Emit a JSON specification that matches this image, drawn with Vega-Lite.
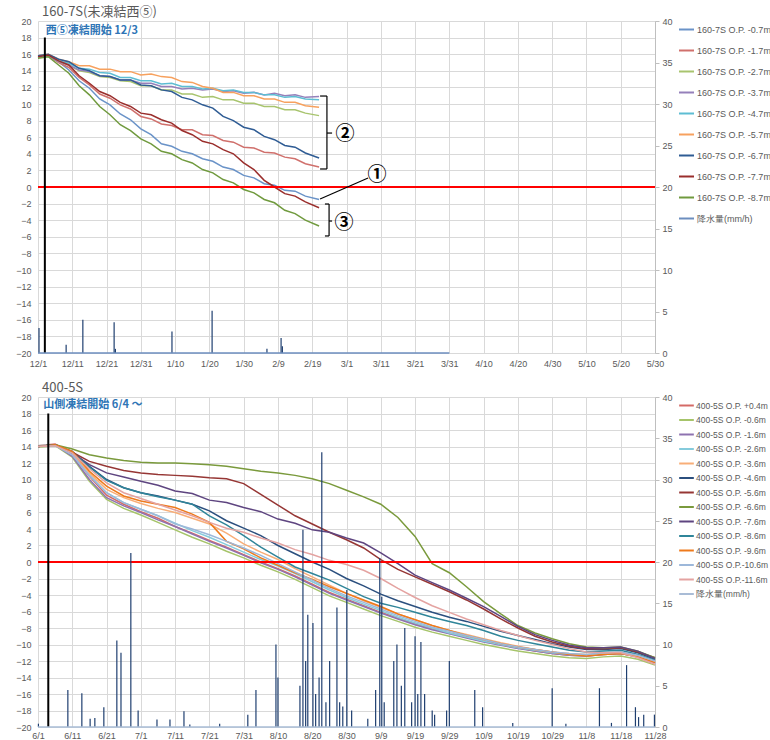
{
"$schema":"https://vega.github.io/schema/vega-lite/v6.json",
"background":"white",
"padding":{"left":8,"top":6,"right":0,"bottom":0},
"spacing":13,
"config":{"font":"Noto Sans CJK JP","view":{"stroke":null},"axis":{"labelFont":"Liberation Sans","labelColor":"#595959","labelFontSize":9,"gridColor":"#d9d9d9","gridWidth":1,"labelOverlap":false,"tickCount":100},"legend":{"labelFont":"Liberation Sans"}},
"datasets":{
"t1":[
{"d":"2018-12-01","s":"-0.7m","v":15.7},{"d":"2018-12-04","s":"-0.7m","v":15.9},{"d":"2018-12-07","s":"-0.7m","v":15.1},{"d":"2018-12-10","s":"-0.7m","v":14.1},{"d":"2018-12-13","s":"-0.7m","v":12.8},{"d":"2018-12-16","s":"-0.7m","v":11.9},{"d":"2018-12-19","s":"-0.7m","v":10.6},{"d":"2018-12-22","s":"-0.7m","v":9.9},{"d":"2018-12-25","s":"-0.7m","v":8.8},{"d":"2018-12-28","s":"-0.7m","v":8.1},{"d":"2018-12-31","s":"-0.7m","v":7.0},{"d":"2019-01-03","s":"-0.7m","v":6.3},{"d":"2019-01-06","s":"-0.7m","v":5.2},{"d":"2019-01-09","s":"-0.7m","v":4.9},{"d":"2019-01-12","s":"-0.7m","v":4.3},{"d":"2019-01-15","s":"-0.7m","v":4.0},{"d":"2019-01-18","s":"-0.7m","v":3.4},{"d":"2019-01-21","s":"-0.7m","v":3.1},{"d":"2019-01-24","s":"-0.7m","v":2.4},{"d":"2019-01-27","s":"-0.7m","v":2.1},{"d":"2019-01-30","s":"-0.7m","v":1.4},{"d":"2019-02-02","s":"-0.7m","v":1.1},{"d":"2019-02-05","s":"-0.7m","v":0.4},{"d":"2019-02-08","s":"-0.7m","v":0.2},{"d":"2019-02-11","s":"-0.7m","v":-0.4},{"d":"2019-02-14","s":"-0.7m","v":-0.5},{"d":"2019-02-17","s":"-0.7m","v":-1.1},{"d":"2019-02-21","s":"-0.7m","v":-1.5},
{"d":"2018-12-01","s":"-1.7m","v":15.6},{"d":"2018-12-04","s":"-1.7m","v":15.8},{"d":"2018-12-07","s":"-1.7m","v":15.0},{"d":"2018-12-10","s":"-1.7m","v":14.4},{"d":"2018-12-13","s":"-1.7m","v":13.2},{"d":"2018-12-16","s":"-1.7m","v":12.3},{"d":"2018-12-19","s":"-1.7m","v":11.2},{"d":"2018-12-22","s":"-1.7m","v":10.7},{"d":"2018-12-25","s":"-1.7m","v":9.9},{"d":"2018-12-28","s":"-1.7m","v":9.4},{"d":"2018-12-31","s":"-1.7m","v":8.5},{"d":"2019-01-03","s":"-1.7m","v":8.2},{"d":"2019-01-06","s":"-1.7m","v":7.6},{"d":"2019-01-09","s":"-1.7m","v":7.4},{"d":"2019-01-12","s":"-1.7m","v":6.9},{"d":"2019-01-15","s":"-1.7m","v":6.9},{"d":"2019-01-18","s":"-1.7m","v":6.3},{"d":"2019-01-21","s":"-1.7m","v":6.2},{"d":"2019-01-24","s":"-1.7m","v":5.6},{"d":"2019-01-27","s":"-1.7m","v":5.4},{"d":"2019-01-30","s":"-1.7m","v":4.8},{"d":"2019-02-02","s":"-1.7m","v":4.7},{"d":"2019-02-05","s":"-1.7m","v":4.2},{"d":"2019-02-08","s":"-1.7m","v":4.1},{"d":"2019-02-11","s":"-1.7m","v":3.6},{"d":"2019-02-14","s":"-1.7m","v":3.4},{"d":"2019-02-17","s":"-1.7m","v":2.8},{"d":"2019-02-21","s":"-1.7m","v":2.4},
{"d":"2018-12-01","s":"-2.7m","v":15.6},{"d":"2018-12-04","s":"-2.7m","v":15.8},{"d":"2018-12-07","s":"-2.7m","v":15.1},{"d":"2018-12-10","s":"-2.7m","v":14.7},{"d":"2018-12-13","s":"-2.7m","v":14.0},{"d":"2018-12-16","s":"-2.7m","v":13.8},{"d":"2018-12-19","s":"-2.7m","v":13.3},{"d":"2018-12-22","s":"-2.7m","v":13.2},{"d":"2018-12-25","s":"-2.7m","v":12.8},{"d":"2018-12-28","s":"-2.7m","v":12.7},{"d":"2018-12-31","s":"-2.7m","v":12.2},{"d":"2019-01-03","s":"-2.7m","v":12.2},{"d":"2019-01-06","s":"-2.7m","v":11.7},{"d":"2019-01-09","s":"-2.7m","v":11.7},{"d":"2019-01-12","s":"-2.7m","v":11.2},{"d":"2019-01-15","s":"-2.7m","v":11.2},{"d":"2019-01-18","s":"-2.7m","v":10.8},{"d":"2019-01-21","s":"-2.7m","v":10.9},{"d":"2019-01-24","s":"-2.7m","v":10.5},{"d":"2019-01-27","s":"-2.7m","v":10.5},{"d":"2019-01-30","s":"-2.7m","v":10.1},{"d":"2019-02-02","s":"-2.7m","v":10.1},{"d":"2019-02-05","s":"-2.7m","v":9.7},{"d":"2019-02-08","s":"-2.7m","v":9.7},{"d":"2019-02-11","s":"-2.7m","v":9.3},{"d":"2019-02-14","s":"-2.7m","v":9.3},{"d":"2019-02-17","s":"-2.7m","v":8.9},{"d":"2019-02-21","s":"-2.7m","v":8.6},
{"d":"2018-12-01","s":"-3.7m","v":15.6},{"d":"2018-12-04","s":"-3.7m","v":15.8},{"d":"2018-12-07","s":"-3.7m","v":15.1},{"d":"2018-12-10","s":"-3.7m","v":14.7},{"d":"2018-12-13","s":"-3.7m","v":14.1},{"d":"2018-12-16","s":"-3.7m","v":13.9},{"d":"2018-12-19","s":"-3.7m","v":13.4},{"d":"2018-12-22","s":"-3.7m","v":13.3},{"d":"2018-12-25","s":"-3.7m","v":12.9},{"d":"2018-12-28","s":"-3.7m","v":12.9},{"d":"2018-12-31","s":"-3.7m","v":12.5},{"d":"2019-01-03","s":"-3.7m","v":12.5},{"d":"2019-01-06","s":"-3.7m","v":12.1},{"d":"2019-01-09","s":"-3.7m","v":12.1},{"d":"2019-01-12","s":"-3.7m","v":11.8},{"d":"2019-01-15","s":"-3.7m","v":11.9},{"d":"2019-01-18","s":"-3.7m","v":11.7},{"d":"2019-01-21","s":"-3.7m","v":11.8},{"d":"2019-01-24","s":"-3.7m","v":11.5},{"d":"2019-01-27","s":"-3.7m","v":11.6},{"d":"2019-01-30","s":"-3.7m","v":11.3},{"d":"2019-02-02","s":"-3.7m","v":11.4},{"d":"2019-02-05","s":"-3.7m","v":11.1},{"d":"2019-02-08","s":"-3.7m","v":11.3},{"d":"2019-02-11","s":"-3.7m","v":11.0},{"d":"2019-02-14","s":"-3.7m","v":11.1},{"d":"2019-02-17","s":"-3.7m","v":10.8},{"d":"2019-02-21","s":"-3.7m","v":10.9},
{"d":"2018-12-01","s":"-4.7m","v":15.7},{"d":"2018-12-04","s":"-4.7m","v":15.9},{"d":"2018-12-07","s":"-4.7m","v":15.2},{"d":"2018-12-10","s":"-4.7m","v":14.9},{"d":"2018-12-13","s":"-4.7m","v":14.3},{"d":"2018-12-16","s":"-4.7m","v":14.2},{"d":"2018-12-19","s":"-4.7m","v":13.8},{"d":"2018-12-22","s":"-4.7m","v":13.7},{"d":"2018-12-25","s":"-4.7m","v":13.2},{"d":"2018-12-28","s":"-4.7m","v":13.2},{"d":"2018-12-31","s":"-4.7m","v":12.8},{"d":"2019-01-03","s":"-4.7m","v":12.8},{"d":"2019-01-06","s":"-4.7m","v":12.4},{"d":"2019-01-09","s":"-4.7m","v":12.5},{"d":"2019-01-12","s":"-4.7m","v":12.1},{"d":"2019-01-15","s":"-4.7m","v":12.1},{"d":"2019-01-18","s":"-4.7m","v":11.8},{"d":"2019-01-21","s":"-4.7m","v":11.9},{"d":"2019-01-24","s":"-4.7m","v":11.6},{"d":"2019-01-27","s":"-4.7m","v":11.7},{"d":"2019-01-30","s":"-4.7m","v":11.4},{"d":"2019-02-02","s":"-4.7m","v":11.4},{"d":"2019-02-05","s":"-4.7m","v":11.1},{"d":"2019-02-08","s":"-4.7m","v":11.1},{"d":"2019-02-11","s":"-4.7m","v":10.8},{"d":"2019-02-14","s":"-4.7m","v":10.9},{"d":"2019-02-17","s":"-4.7m","v":10.6},{"d":"2019-02-21","s":"-4.7m","v":10.5},
{"d":"2018-12-01","s":"-5.7m","v":15.8},{"d":"2018-12-04","s":"-5.7m","v":16.0},{"d":"2018-12-07","s":"-5.7m","v":15.4},{"d":"2018-12-10","s":"-5.7m","v":15.1},{"d":"2018-12-13","s":"-5.7m","v":14.6},{"d":"2018-12-16","s":"-5.7m","v":14.6},{"d":"2018-12-19","s":"-5.7m","v":14.2},{"d":"2018-12-22","s":"-5.7m","v":14.2},{"d":"2018-12-25","s":"-5.7m","v":13.9},{"d":"2018-12-28","s":"-5.7m","v":13.9},{"d":"2018-12-31","s":"-5.7m","v":13.5},{"d":"2019-01-03","s":"-5.7m","v":13.6},{"d":"2019-01-06","s":"-5.7m","v":13.3},{"d":"2019-01-09","s":"-5.7m","v":13.2},{"d":"2019-01-12","s":"-5.7m","v":12.7},{"d":"2019-01-15","s":"-5.7m","v":12.6},{"d":"2019-01-18","s":"-5.7m","v":12.1},{"d":"2019-01-21","s":"-5.7m","v":11.9},{"d":"2019-01-24","s":"-5.7m","v":11.4},{"d":"2019-01-27","s":"-5.7m","v":11.4},{"d":"2019-01-30","s":"-5.7m","v":11.0},{"d":"2019-02-02","s":"-5.7m","v":11.0},{"d":"2019-02-05","s":"-5.7m","v":10.6},{"d":"2019-02-08","s":"-5.7m","v":10.6},{"d":"2019-02-11","s":"-5.7m","v":10.2},{"d":"2019-02-14","s":"-5.7m","v":10.2},{"d":"2019-02-17","s":"-5.7m","v":9.8},{"d":"2019-02-21","s":"-5.7m","v":9.6},
{"d":"2018-12-01","s":"-6.7m","v":15.8},{"d":"2018-12-04","s":"-6.7m","v":16.0},{"d":"2018-12-07","s":"-6.7m","v":15.4},{"d":"2018-12-10","s":"-6.7m","v":15.1},{"d":"2018-12-13","s":"-6.7m","v":14.3},{"d":"2018-12-16","s":"-6.7m","v":14.0},{"d":"2018-12-19","s":"-6.7m","v":13.4},{"d":"2018-12-22","s":"-6.7m","v":13.3},{"d":"2018-12-25","s":"-6.7m","v":12.9},{"d":"2018-12-28","s":"-6.7m","v":12.9},{"d":"2018-12-31","s":"-6.7m","v":12.3},{"d":"2019-01-03","s":"-6.7m","v":12.2},{"d":"2019-01-06","s":"-6.7m","v":11.7},{"d":"2019-01-09","s":"-6.7m","v":11.5},{"d":"2019-01-12","s":"-6.7m","v":10.8},{"d":"2019-01-15","s":"-6.7m","v":10.5},{"d":"2019-01-18","s":"-6.7m","v":9.9},{"d":"2019-01-21","s":"-6.7m","v":9.5},{"d":"2019-01-24","s":"-6.7m","v":8.5},{"d":"2019-01-27","s":"-6.7m","v":8.0},{"d":"2019-01-30","s":"-6.7m","v":7.2},{"d":"2019-02-02","s":"-6.7m","v":6.9},{"d":"2019-02-05","s":"-6.7m","v":6.1},{"d":"2019-02-08","s":"-6.7m","v":5.7},{"d":"2019-02-11","s":"-6.7m","v":5.0},{"d":"2019-02-14","s":"-6.7m","v":4.8},{"d":"2019-02-17","s":"-6.7m","v":4.1},{"d":"2019-02-21","s":"-6.7m","v":3.5},
{"d":"2018-12-01","s":"-7.7m","v":15.7},{"d":"2018-12-04","s":"-7.7m","v":15.9},{"d":"2018-12-07","s":"-7.7m","v":15.2},{"d":"2018-12-10","s":"-7.7m","v":14.7},{"d":"2018-12-13","s":"-7.7m","v":13.4},{"d":"2018-12-16","s":"-7.7m","v":12.5},{"d":"2018-12-19","s":"-7.7m","v":11.5},{"d":"2018-12-22","s":"-7.7m","v":11.0},{"d":"2018-12-25","s":"-7.7m","v":10.2},{"d":"2018-12-28","s":"-7.7m","v":9.7},{"d":"2018-12-31","s":"-7.7m","v":8.9},{"d":"2019-01-03","s":"-7.7m","v":8.7},{"d":"2019-01-06","s":"-7.7m","v":8.1},{"d":"2019-01-09","s":"-7.7m","v":7.7},{"d":"2019-01-12","s":"-7.7m","v":6.8},{"d":"2019-01-15","s":"-7.7m","v":6.3},{"d":"2019-01-18","s":"-7.7m","v":5.5},{"d":"2019-01-21","s":"-7.7m","v":5.2},{"d":"2019-01-24","s":"-7.7m","v":4.5},{"d":"2019-01-27","s":"-7.7m","v":4.0},{"d":"2019-01-30","s":"-7.7m","v":2.9},{"d":"2019-02-02","s":"-7.7m","v":2.1},{"d":"2019-02-05","s":"-7.7m","v":0.8},{"d":"2019-02-08","s":"-7.7m","v":0.0},{"d":"2019-02-11","s":"-7.7m","v":-0.8},{"d":"2019-02-14","s":"-7.7m","v":-1.1},{"d":"2019-02-17","s":"-7.7m","v":-1.8},{"d":"2019-02-21","s":"-7.7m","v":-2.5},
{"d":"2018-12-01","s":"-8.7m","v":15.5},{"d":"2018-12-04","s":"-8.7m","v":15.7},{"d":"2018-12-07","s":"-8.7m","v":14.7},{"d":"2018-12-10","s":"-8.7m","v":13.7},{"d":"2018-12-13","s":"-8.7m","v":12.2},{"d":"2018-12-16","s":"-8.7m","v":11.1},{"d":"2018-12-19","s":"-8.7m","v":9.7},{"d":"2018-12-22","s":"-8.7m","v":8.7},{"d":"2018-12-25","s":"-8.7m","v":7.5},{"d":"2018-12-28","s":"-8.7m","v":6.8},{"d":"2018-12-31","s":"-8.7m","v":5.8},{"d":"2019-01-03","s":"-8.7m","v":5.2},{"d":"2019-01-06","s":"-8.7m","v":4.3},{"d":"2019-01-09","s":"-8.7m","v":4.0},{"d":"2019-01-12","s":"-8.7m","v":3.3},{"d":"2019-01-15","s":"-8.7m","v":2.9},{"d":"2019-01-18","s":"-8.7m","v":2.1},{"d":"2019-01-21","s":"-8.7m","v":1.7},{"d":"2019-01-24","s":"-8.7m","v":0.9},{"d":"2019-01-27","s":"-8.7m","v":0.5},{"d":"2019-01-30","s":"-8.7m","v":-0.3},{"d":"2019-02-02","s":"-8.7m","v":-0.7},{"d":"2019-02-05","s":"-8.7m","v":-1.5},{"d":"2019-02-08","s":"-8.7m","v":-1.9},{"d":"2019-02-11","s":"-8.7m","v":-2.8},{"d":"2019-02-14","s":"-8.7m","v":-3.2},{"d":"2019-02-17","s":"-8.7m","v":-4.0},{"d":"2019-02-21","s":"-8.7m","v":-4.7}
],
"p1":[
{"d":"2018-12-01T07:00:00Z","p":3.0},{"d":"2018-12-09T05:00:00Z","p":1.0},{"d":"2018-12-14T02:00:00Z","p":4.0},{"d":"2018-12-23T05:00:00Z","p":3.7},{"d":"2018-12-23T14:00:00Z","p":0.5},{"d":"2019-01-09T02:00:00Z","p":2.6},{"d":"2019-01-20T19:00:00Z","p":5.1},{"d":"2019-02-05T19:00:00Z","p":0.5},{"d":"2019-02-09T22:00:00Z","p":1.8},{"d":"2019-02-10T07:00:00Z","p":0.8}
],
"ann":[
{"t0":"2019-02-21T07:00:00Z","t1":"2019-02-23T07:00:00Z","v0":10.96,"v1":10.96},
{"t0":"2019-02-23T07:00:00Z","t1":"2019-02-23T07:00:00Z","v0":10.96,"v1":2.17},
{"t0":"2019-02-21T07:00:00Z","t1":"2019-02-23T07:00:00Z","v0":2.17,"v1":2.17},
{"t0":"2019-02-23T07:00:00Z","t1":"2019-02-24T19:00:00Z","v0":6.5,"v1":6.5},
{"t0":"2019-02-21T07:00:00Z","t1":"2019-03-07T07:00:00Z","v0":-1.45,"v1":1.08},
{"t0":"2019-02-22T17:00:00Z","t1":"2019-02-23T22:00:00Z","v0":-2.05,"v1":-2.05},
{"t0":"2019-02-23T22:00:00Z","t1":"2019-02-23T22:00:00Z","v0":-2.05,"v1":-5.9},
{"t0":"2019-02-22T17:00:00Z","t1":"2019-02-23T22:00:00Z","v0":-5.9,"v1":-5.9},
{"t0":"2019-02-23T22:00:00Z","t1":"2019-02-24T19:00:00Z","v0":-4.1,"v1":-4.1}
],
"annText":[
{"t":"2019-02-28T14:00:00Z","v":6.4,"label":"②"},{"t":"2019-03-09T22:00:00Z","v":1.45,"label":"①"},{"t":"2019-02-28T07:00:00Z","v":-4.3,"label":"③"}
],
"t2":[
{"d":"2019-06-01","s":"+0.4m","v":14.1},{"d":"2019-06-06","s":"+0.4m","v":14.3},{"d":"2019-06-11","s":"+0.4m","v":13.1},{"d":"2019-06-16","s":"+0.4m","v":10.4},{"d":"2019-06-21","s":"+0.4m","v":8.1},{"d":"2019-06-26","s":"+0.4m","v":7.0},{"d":"2019-07-01","s":"+0.4m","v":6.1},{"d":"2019-07-06","s":"+0.4m","v":5.3},{"d":"2019-07-11","s":"+0.4m","v":4.3},{"d":"2019-07-16","s":"+0.4m","v":3.5},{"d":"2019-07-21","s":"+0.4m","v":2.6},{"d":"2019-07-26","s":"+0.4m","v":1.8},{"d":"2019-07-31","s":"+0.4m","v":0.9},{"d":"2019-08-05","s":"+0.4m","v":0.0},{"d":"2019-08-10","s":"+0.4m","v":-0.8},{"d":"2019-08-15","s":"+0.4m","v":-1.7},{"d":"2019-08-20","s":"+0.4m","v":-2.7},{"d":"2019-08-25","s":"+0.4m","v":-3.7},{"d":"2019-08-30","s":"+0.4m","v":-4.5},{"d":"2019-09-04","s":"+0.4m","v":-5.3},{"d":"2019-09-09","s":"+0.4m","v":-6.1},{"d":"2019-09-14","s":"+0.4m","v":-6.8},{"d":"2019-09-19","s":"+0.4m","v":-7.5},{"d":"2019-09-24","s":"+0.4m","v":-8.1},{"d":"2019-09-29","s":"+0.4m","v":-8.6},{"d":"2019-10-04","s":"+0.4m","v":-9.1},{"d":"2019-10-09","s":"+0.4m","v":-9.6},{"d":"2019-10-14","s":"+0.4m","v":-10.0},{"d":"2019-10-19","s":"+0.4m","v":-10.4},{"d":"2019-10-24","s":"+0.4m","v":-10.8},{"d":"2019-10-29","s":"+0.4m","v":-11.1},{"d":"2019-11-03","s":"+0.4m","v":-11.3},{"d":"2019-11-08","s":"+0.4m","v":-11.4},{"d":"2019-11-13","s":"+0.4m","v":-11.2},{"d":"2019-11-18","s":"+0.4m","v":-11.1},{"d":"2019-11-23","s":"+0.4m","v":-11.5},{"d":"2019-11-28","s":"+0.4m","v":-12.2},
{"d":"2019-06-01","s":"-0.6m","v":13.9},{"d":"2019-06-06","s":"-0.6m","v":14.1},{"d":"2019-06-11","s":"-0.6m","v":12.7},{"d":"2019-06-16","s":"-0.6m","v":9.8},{"d":"2019-06-21","s":"-0.6m","v":7.6},{"d":"2019-06-26","s":"-0.6m","v":6.5},{"d":"2019-07-01","s":"-0.6m","v":5.7},{"d":"2019-07-06","s":"-0.6m","v":4.8},{"d":"2019-07-11","s":"-0.6m","v":3.9},{"d":"2019-07-16","s":"-0.6m","v":3.0},{"d":"2019-07-21","s":"-0.6m","v":2.2},{"d":"2019-07-26","s":"-0.6m","v":1.3},{"d":"2019-07-31","s":"-0.6m","v":0.5},{"d":"2019-08-05","s":"-0.6m","v":-0.4},{"d":"2019-08-10","s":"-0.6m","v":-1.2},{"d":"2019-08-15","s":"-0.6m","v":-2.1},{"d":"2019-08-20","s":"-0.6m","v":-3.1},{"d":"2019-08-25","s":"-0.6m","v":-4.1},{"d":"2019-08-30","s":"-0.6m","v":-4.9},{"d":"2019-09-04","s":"-0.6m","v":-5.7},{"d":"2019-09-09","s":"-0.6m","v":-6.5},{"d":"2019-09-14","s":"-0.6m","v":-7.2},{"d":"2019-09-19","s":"-0.6m","v":-7.9},{"d":"2019-09-24","s":"-0.6m","v":-8.5},{"d":"2019-09-29","s":"-0.6m","v":-9.0},{"d":"2019-10-04","s":"-0.6m","v":-9.5},{"d":"2019-10-09","s":"-0.6m","v":-10.0},{"d":"2019-10-14","s":"-0.6m","v":-10.4},{"d":"2019-10-19","s":"-0.6m","v":-10.8},{"d":"2019-10-24","s":"-0.6m","v":-11.1},{"d":"2019-10-29","s":"-0.6m","v":-11.4},{"d":"2019-11-03","s":"-0.6m","v":-11.6},{"d":"2019-11-08","s":"-0.6m","v":-11.7},{"d":"2019-11-13","s":"-0.6m","v":-11.5},{"d":"2019-11-18","s":"-0.6m","v":-11.4},{"d":"2019-11-23","s":"-0.6m","v":-11.8},{"d":"2019-11-28","s":"-0.6m","v":-12.5},
{"d":"2019-06-01","s":"-1.6m","v":14.0},{"d":"2019-06-06","s":"-1.6m","v":14.2},{"d":"2019-06-11","s":"-1.6m","v":12.8},{"d":"2019-06-16","s":"-1.6m","v":10.0},{"d":"2019-06-21","s":"-1.6m","v":7.8},{"d":"2019-06-26","s":"-1.6m","v":6.8},{"d":"2019-07-01","s":"-1.6m","v":6.0},{"d":"2019-07-06","s":"-1.6m","v":5.1},{"d":"2019-07-11","s":"-1.6m","v":4.3},{"d":"2019-07-16","s":"-1.6m","v":3.4},{"d":"2019-07-21","s":"-1.6m","v":2.5},{"d":"2019-07-26","s":"-1.6m","v":1.7},{"d":"2019-07-31","s":"-1.6m","v":0.8},{"d":"2019-08-05","s":"-1.6m","v":-0.1},{"d":"2019-08-10","s":"-1.6m","v":-0.9},{"d":"2019-08-15","s":"-1.6m","v":-1.8},{"d":"2019-08-20","s":"-1.6m","v":-2.8},{"d":"2019-08-25","s":"-1.6m","v":-3.8},{"d":"2019-08-30","s":"-1.6m","v":-4.6},{"d":"2019-09-04","s":"-1.6m","v":-5.4},{"d":"2019-09-09","s":"-1.6m","v":-6.2},{"d":"2019-09-14","s":"-1.6m","v":-6.9},{"d":"2019-09-19","s":"-1.6m","v":-7.6},{"d":"2019-09-24","s":"-1.6m","v":-8.2},{"d":"2019-09-29","s":"-1.6m","v":-8.7},{"d":"2019-10-04","s":"-1.6m","v":-9.2},{"d":"2019-10-09","s":"-1.6m","v":-9.7},{"d":"2019-10-14","s":"-1.6m","v":-10.1},{"d":"2019-10-19","s":"-1.6m","v":-10.5},{"d":"2019-10-24","s":"-1.6m","v":-10.8},{"d":"2019-10-29","s":"-1.6m","v":-11.1},{"d":"2019-11-03","s":"-1.6m","v":-11.3},{"d":"2019-11-08","s":"-1.6m","v":-11.4},{"d":"2019-11-13","s":"-1.6m","v":-11.2},{"d":"2019-11-18","s":"-1.6m","v":-11.1},{"d":"2019-11-23","s":"-1.6m","v":-11.5},{"d":"2019-11-28","s":"-1.6m","v":-12.2},
{"d":"2019-06-01","s":"-2.6m","v":14.1},{"d":"2019-06-06","s":"-2.6m","v":14.2},{"d":"2019-06-11","s":"-2.6m","v":13.0},{"d":"2019-06-16","s":"-2.6m","v":10.5},{"d":"2019-06-21","s":"-2.6m","v":8.4},{"d":"2019-06-26","s":"-2.6m","v":7.2},{"d":"2019-07-01","s":"-2.6m","v":6.4},{"d":"2019-07-06","s":"-2.6m","v":5.6},{"d":"2019-07-11","s":"-2.6m","v":4.7},{"d":"2019-07-16","s":"-2.6m","v":3.8},{"d":"2019-07-21","s":"-2.6m","v":3.0},{"d":"2019-07-26","s":"-2.6m","v":2.1},{"d":"2019-07-31","s":"-2.6m","v":1.2},{"d":"2019-08-05","s":"-2.6m","v":0.3},{"d":"2019-08-10","s":"-2.6m","v":-0.5},{"d":"2019-08-15","s":"-2.6m","v":-1.4},{"d":"2019-08-20","s":"-2.6m","v":-2.4},{"d":"2019-08-25","s":"-2.6m","v":-3.4},{"d":"2019-08-30","s":"-2.6m","v":-4.3},{"d":"2019-09-04","s":"-2.6m","v":-5.1},{"d":"2019-09-09","s":"-2.6m","v":-5.9},{"d":"2019-09-14","s":"-2.6m","v":-6.7},{"d":"2019-09-19","s":"-2.6m","v":-7.4},{"d":"2019-09-24","s":"-2.6m","v":-8.0},{"d":"2019-09-29","s":"-2.6m","v":-8.6},{"d":"2019-10-04","s":"-2.6m","v":-9.1},{"d":"2019-10-09","s":"-2.6m","v":-9.6},{"d":"2019-10-14","s":"-2.6m","v":-10.0},{"d":"2019-10-19","s":"-2.6m","v":-10.4},{"d":"2019-10-24","s":"-2.6m","v":-10.7},{"d":"2019-10-29","s":"-2.6m","v":-11.0},{"d":"2019-11-03","s":"-2.6m","v":-11.2},{"d":"2019-11-08","s":"-2.6m","v":-11.3},{"d":"2019-11-13","s":"-2.6m","v":-11.1},{"d":"2019-11-18","s":"-2.6m","v":-11.0},{"d":"2019-11-23","s":"-2.6m","v":-11.4},{"d":"2019-11-28","s":"-2.6m","v":-12.1},
{"d":"2019-06-01","s":"-3.6m","v":14.0},{"d":"2019-06-06","s":"-3.6m","v":14.2},{"d":"2019-06-11","s":"-3.6m","v":13.2},{"d":"2019-06-16","s":"-3.6m","v":10.8},{"d":"2019-06-21","s":"-3.6m","v":8.8},{"d":"2019-06-26","s":"-3.6m","v":7.8},{"d":"2019-07-01","s":"-3.6m","v":7.1},{"d":"2019-07-06","s":"-3.6m","v":6.5},{"d":"2019-07-11","s":"-3.6m","v":6.0},{"d":"2019-07-16","s":"-3.6m","v":5.3},{"d":"2019-07-21","s":"-3.6m","v":4.6},{"d":"2019-07-26","s":"-3.6m","v":3.5},{"d":"2019-07-31","s":"-3.6m","v":2.2},{"d":"2019-08-05","s":"-3.6m","v":1.2},{"d":"2019-08-10","s":"-3.6m","v":0.3},{"d":"2019-08-15","s":"-3.6m","v":-0.8},{"d":"2019-08-20","s":"-3.6m","v":-1.8},{"d":"2019-08-25","s":"-3.6m","v":-2.8},{"d":"2019-08-30","s":"-3.6m","v":-3.8},{"d":"2019-09-04","s":"-3.6m","v":-4.7},{"d":"2019-09-09","s":"-3.6m","v":-5.5},{"d":"2019-09-14","s":"-3.6m","v":-6.3},{"d":"2019-09-19","s":"-3.6m","v":-7.0},{"d":"2019-09-24","s":"-3.6m","v":-7.7},{"d":"2019-09-29","s":"-3.6m","v":-8.3},{"d":"2019-10-04","s":"-3.6m","v":-8.8},{"d":"2019-10-09","s":"-3.6m","v":-9.3},{"d":"2019-10-14","s":"-3.6m","v":-9.8},{"d":"2019-10-19","s":"-3.6m","v":-10.2},{"d":"2019-10-24","s":"-3.6m","v":-10.6},{"d":"2019-10-29","s":"-3.6m","v":-10.9},{"d":"2019-11-03","s":"-3.6m","v":-11.1},{"d":"2019-11-08","s":"-3.6m","v":-11.2},{"d":"2019-11-13","s":"-3.6m","v":-11.0},{"d":"2019-11-18","s":"-3.6m","v":-10.9},{"d":"2019-11-23","s":"-3.6m","v":-11.4},{"d":"2019-11-28","s":"-3.6m","v":-12.1},
{"d":"2019-06-01","s":"-4.6m","v":14.0},{"d":"2019-06-06","s":"-4.6m","v":14.2},{"d":"2019-06-11","s":"-4.6m","v":13.4},{"d":"2019-06-16","s":"-4.6m","v":11.6},{"d":"2019-06-21","s":"-4.6m","v":10.0},{"d":"2019-06-26","s":"-4.6m","v":9.0},{"d":"2019-07-01","s":"-4.6m","v":8.4},{"d":"2019-07-06","s":"-4.6m","v":8.0},{"d":"2019-07-11","s":"-4.6m","v":7.5},{"d":"2019-07-16","s":"-4.6m","v":7.0},{"d":"2019-07-21","s":"-4.6m","v":6.2},{"d":"2019-07-26","s":"-4.6m","v":5.0},{"d":"2019-07-31","s":"-4.6m","v":4.1},{"d":"2019-08-05","s":"-4.6m","v":3.2},{"d":"2019-08-10","s":"-4.6m","v":2.0},{"d":"2019-08-15","s":"-4.6m","v":1.0},{"d":"2019-08-20","s":"-4.6m","v":0.0},{"d":"2019-08-25","s":"-4.6m","v":-0.9},{"d":"2019-08-30","s":"-4.6m","v":-2.0},{"d":"2019-09-04","s":"-4.6m","v":-2.9},{"d":"2019-09-09","s":"-4.6m","v":-3.9},{"d":"2019-09-14","s":"-4.6m","v":-4.7},{"d":"2019-09-19","s":"-4.6m","v":-5.4},{"d":"2019-09-24","s":"-4.6m","v":-6.1},{"d":"2019-09-29","s":"-4.6m","v":-6.7},{"d":"2019-10-04","s":"-4.6m","v":-7.2},{"d":"2019-10-09","s":"-4.6m","v":-7.8},{"d":"2019-10-14","s":"-4.6m","v":-8.4},{"d":"2019-10-19","s":"-4.6m","v":-8.9},{"d":"2019-10-24","s":"-4.6m","v":-9.4},{"d":"2019-10-29","s":"-4.6m","v":-9.9},{"d":"2019-11-03","s":"-4.6m","v":-10.3},{"d":"2019-11-08","s":"-4.6m","v":-10.6},{"d":"2019-11-13","s":"-4.6m","v":-10.6},{"d":"2019-11-18","s":"-4.6m","v":-10.5},{"d":"2019-11-23","s":"-4.6m","v":-11.0},{"d":"2019-11-28","s":"-4.6m","v":-11.8},
{"d":"2019-06-01","s":"-5.6m","v":14.0},{"d":"2019-06-06","s":"-5.6m","v":14.2},{"d":"2019-06-11","s":"-5.6m","v":13.3},{"d":"2019-06-16","s":"-5.6m","v":12.2},{"d":"2019-06-21","s":"-5.6m","v":11.6},{"d":"2019-06-26","s":"-5.6m","v":11.1},{"d":"2019-07-01","s":"-5.6m","v":10.8},{"d":"2019-07-06","s":"-5.6m","v":10.6},{"d":"2019-07-11","s":"-5.6m","v":10.5},{"d":"2019-07-16","s":"-5.6m","v":10.4},{"d":"2019-07-21","s":"-5.6m","v":10.2},{"d":"2019-07-26","s":"-5.6m","v":10.1},{"d":"2019-07-31","s":"-5.6m","v":9.5},{"d":"2019-08-05","s":"-5.6m","v":8.2},{"d":"2019-08-10","s":"-5.6m","v":6.9},{"d":"2019-08-15","s":"-5.6m","v":5.6},{"d":"2019-08-20","s":"-5.6m","v":4.6},{"d":"2019-08-25","s":"-5.6m","v":3.6},{"d":"2019-08-30","s":"-5.6m","v":2.7},{"d":"2019-09-04","s":"-5.6m","v":1.7},{"d":"2019-09-09","s":"-5.6m","v":0.3},{"d":"2019-09-14","s":"-5.6m","v":-0.9},{"d":"2019-09-19","s":"-5.6m","v":-1.8},{"d":"2019-09-24","s":"-5.6m","v":-2.7},{"d":"2019-09-29","s":"-5.6m","v":-3.6},{"d":"2019-10-04","s":"-5.6m","v":-4.6},{"d":"2019-10-09","s":"-5.6m","v":-5.7},{"d":"2019-10-14","s":"-5.6m","v":-6.9},{"d":"2019-10-19","s":"-5.6m","v":-8.0},{"d":"2019-10-24","s":"-5.6m","v":-9.0},{"d":"2019-10-29","s":"-5.6m","v":-9.7},{"d":"2019-11-03","s":"-5.6m","v":-10.2},{"d":"2019-11-08","s":"-5.6m","v":-10.5},{"d":"2019-11-13","s":"-5.6m","v":-10.5},{"d":"2019-11-18","s":"-5.6m","v":-10.4},{"d":"2019-11-23","s":"-5.6m","v":-10.9},{"d":"2019-11-28","s":"-5.6m","v":-11.6},
{"d":"2019-06-01","s":"-6.6m","v":14.0},{"d":"2019-06-06","s":"-6.6m","v":14.2},{"d":"2019-06-11","s":"-6.6m","v":13.7},{"d":"2019-06-16","s":"-6.6m","v":13.0},{"d":"2019-06-21","s":"-6.6m","v":12.6},{"d":"2019-06-26","s":"-6.6m","v":12.3},{"d":"2019-07-01","s":"-6.6m","v":12.1},{"d":"2019-07-06","s":"-6.6m","v":12.0},{"d":"2019-07-11","s":"-6.6m","v":12.0},{"d":"2019-07-16","s":"-6.6m","v":11.9},{"d":"2019-07-21","s":"-6.6m","v":11.8},{"d":"2019-07-26","s":"-6.6m","v":11.6},{"d":"2019-07-31","s":"-6.6m","v":11.3},{"d":"2019-08-05","s":"-6.6m","v":11.0},{"d":"2019-08-10","s":"-6.6m","v":10.8},{"d":"2019-08-15","s":"-6.6m","v":10.5},{"d":"2019-08-20","s":"-6.6m","v":10.1},{"d":"2019-08-25","s":"-6.6m","v":9.5},{"d":"2019-08-30","s":"-6.6m","v":8.7},{"d":"2019-09-04","s":"-6.6m","v":7.9},{"d":"2019-09-09","s":"-6.6m","v":7.0},{"d":"2019-09-14","s":"-6.6m","v":5.4},{"d":"2019-09-19","s":"-6.6m","v":3.1},{"d":"2019-09-24","s":"-6.6m","v":-0.2},{"d":"2019-09-29","s":"-6.6m","v":-1.3},{"d":"2019-10-04","s":"-6.6m","v":-3.0},{"d":"2019-10-09","s":"-6.6m","v":-4.8},{"d":"2019-10-14","s":"-6.6m","v":-6.3},{"d":"2019-10-19","s":"-6.6m","v":-7.7},{"d":"2019-10-24","s":"-6.6m","v":-8.6},{"d":"2019-10-29","s":"-6.6m","v":-9.3},{"d":"2019-11-03","s":"-6.6m","v":-9.9},{"d":"2019-11-08","s":"-6.6m","v":-10.3},{"d":"2019-11-13","s":"-6.6m","v":-10.4},{"d":"2019-11-18","s":"-6.6m","v":-10.3},{"d":"2019-11-23","s":"-6.6m","v":-10.8},{"d":"2019-11-28","s":"-6.6m","v":-11.6},
{"d":"2019-06-01","s":"-7.6m","v":14.0},{"d":"2019-06-06","s":"-7.6m","v":14.2},{"d":"2019-06-11","s":"-7.6m","v":13.2},{"d":"2019-06-16","s":"-7.6m","v":11.8},{"d":"2019-06-21","s":"-7.6m","v":10.8},{"d":"2019-06-26","s":"-7.6m","v":10.3},{"d":"2019-07-01","s":"-7.6m","v":9.8},{"d":"2019-07-06","s":"-7.6m","v":9.3},{"d":"2019-07-11","s":"-7.6m","v":8.6},{"d":"2019-07-16","s":"-7.6m","v":8.3},{"d":"2019-07-21","s":"-7.6m","v":7.5},{"d":"2019-07-26","s":"-7.6m","v":7.2},{"d":"2019-07-31","s":"-7.6m","v":6.6},{"d":"2019-08-05","s":"-7.6m","v":6.1},{"d":"2019-08-10","s":"-7.6m","v":5.2},{"d":"2019-08-15","s":"-7.6m","v":4.7},{"d":"2019-08-20","s":"-7.6m","v":3.9},{"d":"2019-08-25","s":"-7.6m","v":3.6},{"d":"2019-08-30","s":"-7.6m","v":2.9},{"d":"2019-09-04","s":"-7.6m","v":2.3},{"d":"2019-09-09","s":"-7.6m","v":1.1},{"d":"2019-09-14","s":"-7.6m","v":-0.2},{"d":"2019-09-19","s":"-7.6m","v":-1.6},{"d":"2019-09-24","s":"-7.6m","v":-2.5},{"d":"2019-09-29","s":"-7.6m","v":-3.4},{"d":"2019-10-04","s":"-7.6m","v":-4.4},{"d":"2019-10-09","s":"-7.6m","v":-5.4},{"d":"2019-10-14","s":"-7.6m","v":-6.6},{"d":"2019-10-19","s":"-7.6m","v":-7.8},{"d":"2019-10-24","s":"-7.6m","v":-8.8},{"d":"2019-10-29","s":"-7.6m","v":-9.5},{"d":"2019-11-03","s":"-7.6m","v":-10.1},{"d":"2019-11-08","s":"-7.6m","v":-10.4},{"d":"2019-11-13","s":"-7.6m","v":-10.4},{"d":"2019-11-18","s":"-7.6m","v":-10.3},{"d":"2019-11-23","s":"-7.6m","v":-10.8},{"d":"2019-11-28","s":"-7.6m","v":-11.7},
{"d":"2019-06-01","s":"-8.6m","v":14.0},{"d":"2019-06-06","s":"-8.6m","v":14.2},{"d":"2019-06-11","s":"-8.6m","v":13.3},{"d":"2019-06-16","s":"-8.6m","v":11.5},{"d":"2019-06-21","s":"-8.6m","v":9.9},{"d":"2019-06-26","s":"-8.6m","v":9.0},{"d":"2019-07-01","s":"-8.6m","v":8.4},{"d":"2019-07-06","s":"-8.6m","v":7.9},{"d":"2019-07-11","s":"-8.6m","v":7.5},{"d":"2019-07-16","s":"-8.6m","v":7.0},{"d":"2019-07-21","s":"-8.6m","v":5.6},{"d":"2019-07-26","s":"-8.6m","v":4.5},{"d":"2019-07-31","s":"-8.6m","v":3.2},{"d":"2019-08-05","s":"-8.6m","v":1.8},{"d":"2019-08-10","s":"-8.6m","v":0.6},{"d":"2019-08-15","s":"-8.6m","v":-0.6},{"d":"2019-08-20","s":"-8.6m","v":-1.4},{"d":"2019-08-25","s":"-8.6m","v":-2.2},{"d":"2019-08-30","s":"-8.6m","v":-3.2},{"d":"2019-09-04","s":"-8.6m","v":-4.2},{"d":"2019-09-09","s":"-8.6m","v":-5.0},{"d":"2019-09-14","s":"-8.6m","v":-5.5},{"d":"2019-09-19","s":"-8.6m","v":-6.1},{"d":"2019-09-24","s":"-8.6m","v":-6.7},{"d":"2019-09-29","s":"-8.6m","v":-7.2},{"d":"2019-10-04","s":"-8.6m","v":-7.7},{"d":"2019-10-09","s":"-8.6m","v":-8.3},{"d":"2019-10-14","s":"-8.6m","v":-9.0},{"d":"2019-10-19","s":"-8.6m","v":-9.5},{"d":"2019-10-24","s":"-8.6m","v":-9.9},{"d":"2019-10-29","s":"-8.6m","v":-10.3},{"d":"2019-11-03","s":"-8.6m","v":-10.7},{"d":"2019-11-08","s":"-8.6m","v":-10.9},{"d":"2019-11-13","s":"-8.6m","v":-10.8},{"d":"2019-11-18","s":"-8.6m","v":-10.7},{"d":"2019-11-23","s":"-8.6m","v":-11.2},{"d":"2019-11-28","s":"-8.6m","v":-11.9},
{"d":"2019-06-01","s":"-9.6m","v":14.0},{"d":"2019-06-06","s":"-9.6m","v":14.2},{"d":"2019-06-11","s":"-9.6m","v":13.4},{"d":"2019-06-16","s":"-9.6m","v":11.0},{"d":"2019-06-21","s":"-9.6m","v":9.2},{"d":"2019-06-26","s":"-9.6m","v":8.0},{"d":"2019-07-01","s":"-9.6m","v":7.4},{"d":"2019-07-06","s":"-9.6m","v":7.0},{"d":"2019-07-11","s":"-9.6m","v":6.6},{"d":"2019-07-16","s":"-9.6m","v":5.8},{"d":"2019-07-21","s":"-9.6m","v":4.8},{"d":"2019-07-26","s":"-9.6m","v":2.5},{"d":"2019-07-31","s":"-9.6m","v":1.6},{"d":"2019-08-05","s":"-9.6m","v":0.5},{"d":"2019-08-10","s":"-9.6m","v":-0.4},{"d":"2019-08-15","s":"-9.6m","v":-1.3},{"d":"2019-08-20","s":"-9.6m","v":-2.1},{"d":"2019-08-25","s":"-9.6m","v":-3.0},{"d":"2019-08-30","s":"-9.6m","v":-3.8},{"d":"2019-09-04","s":"-9.6m","v":-4.6},{"d":"2019-09-09","s":"-9.6m","v":-5.4},{"d":"2019-09-14","s":"-9.6m","v":-6.3},{"d":"2019-09-19","s":"-9.6m","v":-7.0},{"d":"2019-09-24","s":"-9.6m","v":-7.7},{"d":"2019-09-29","s":"-9.6m","v":-8.3},{"d":"2019-10-04","s":"-9.6m","v":-8.9},{"d":"2019-10-09","s":"-9.6m","v":-9.4},{"d":"2019-10-14","s":"-9.6m","v":-9.9},{"d":"2019-10-19","s":"-9.6m","v":-10.3},{"d":"2019-10-24","s":"-9.6m","v":-10.6},{"d":"2019-10-29","s":"-9.6m","v":-10.9},{"d":"2019-11-03","s":"-9.6m","v":-11.2},{"d":"2019-11-08","s":"-9.6m","v":-11.4},{"d":"2019-11-13","s":"-9.6m","v":-11.2},{"d":"2019-11-18","s":"-9.6m","v":-11.1},{"d":"2019-11-23","s":"-9.6m","v":-11.5},{"d":"2019-11-28","s":"-9.6m","v":-12.2},
{"d":"2019-06-01","s":"-10.6m","v":14.0},{"d":"2019-06-06","s":"-10.6m","v":14.1},{"d":"2019-06-11","s":"-10.6m","v":13.0},{"d":"2019-06-16","s":"-10.6m","v":10.5},{"d":"2019-06-21","s":"-10.6m","v":8.4},{"d":"2019-06-26","s":"-10.6m","v":7.2},{"d":"2019-07-01","s":"-10.6m","v":6.4},{"d":"2019-07-06","s":"-10.6m","v":5.6},{"d":"2019-07-11","s":"-10.6m","v":4.6},{"d":"2019-07-16","s":"-10.6m","v":4.0},{"d":"2019-07-21","s":"-10.6m","v":3.3},{"d":"2019-07-26","s":"-10.6m","v":2.5},{"d":"2019-07-31","s":"-10.6m","v":1.7},{"d":"2019-08-05","s":"-10.6m","v":0.8},{"d":"2019-08-10","s":"-10.6m","v":-0.2},{"d":"2019-08-15","s":"-10.6m","v":-1.2},{"d":"2019-08-20","s":"-10.6m","v":-2.2},{"d":"2019-08-25","s":"-10.6m","v":-3.2},{"d":"2019-08-30","s":"-10.6m","v":-4.1},{"d":"2019-09-04","s":"-10.6m","v":-4.9},{"d":"2019-09-09","s":"-10.6m","v":-5.7},{"d":"2019-09-14","s":"-10.6m","v":-6.5},{"d":"2019-09-19","s":"-10.6m","v":-7.2},{"d":"2019-09-24","s":"-10.6m","v":-7.9},{"d":"2019-09-29","s":"-10.6m","v":-8.4},{"d":"2019-10-04","s":"-10.6m","v":-8.9},{"d":"2019-10-09","s":"-10.6m","v":-9.4},{"d":"2019-10-14","s":"-10.6m","v":-9.9},{"d":"2019-10-19","s":"-10.6m","v":-10.3},{"d":"2019-10-24","s":"-10.6m","v":-10.6},{"d":"2019-10-29","s":"-10.6m","v":-10.9},{"d":"2019-11-03","s":"-10.6m","v":-11.1},{"d":"2019-11-08","s":"-10.6m","v":-11.2},{"d":"2019-11-13","s":"-10.6m","v":-11.0},{"d":"2019-11-18","s":"-10.6m","v":-10.9},{"d":"2019-11-23","s":"-10.6m","v":-11.3},{"d":"2019-11-28","s":"-10.6m","v":-12.0},
{"d":"2019-06-01","s":"-11.6m","v":14.0},{"d":"2019-06-06","s":"-11.6m","v":14.1},{"d":"2019-06-11","s":"-11.6m","v":13.2},{"d":"2019-06-16","s":"-11.6m","v":11.3},{"d":"2019-06-21","s":"-11.6m","v":9.6},{"d":"2019-06-26","s":"-11.6m","v":8.4},{"d":"2019-07-01","s":"-11.6m","v":7.7},{"d":"2019-07-06","s":"-11.6m","v":7.0},{"d":"2019-07-11","s":"-11.6m","v":6.3},{"d":"2019-07-16","s":"-11.6m","v":5.6},{"d":"2019-07-21","s":"-11.6m","v":4.8},{"d":"2019-07-26","s":"-11.6m","v":4.1},{"d":"2019-07-31","s":"-11.6m","v":3.6},{"d":"2019-08-05","s":"-11.6m","v":2.9},{"d":"2019-08-10","s":"-11.6m","v":2.3},{"d":"2019-08-15","s":"-11.6m","v":1.5},{"d":"2019-08-20","s":"-11.6m","v":0.9},{"d":"2019-08-25","s":"-11.6m","v":0.2},{"d":"2019-08-30","s":"-11.6m","v":-0.3},{"d":"2019-09-04","s":"-11.6m","v":-1.0},{"d":"2019-09-09","s":"-11.6m","v":-2.0},{"d":"2019-09-14","s":"-11.6m","v":-3.2},{"d":"2019-09-19","s":"-11.6m","v":-4.3},{"d":"2019-09-24","s":"-11.6m","v":-5.3},{"d":"2019-09-29","s":"-11.6m","v":-6.1},{"d":"2019-10-04","s":"-11.6m","v":-6.9},{"d":"2019-10-09","s":"-11.6m","v":-7.6},{"d":"2019-10-14","s":"-11.6m","v":-8.3},{"d":"2019-10-19","s":"-11.6m","v":-8.9},{"d":"2019-10-24","s":"-11.6m","v":-9.5},{"d":"2019-10-29","s":"-11.6m","v":-10.0},{"d":"2019-11-03","s":"-11.6m","v":-10.5},{"d":"2019-11-08","s":"-11.6m","v":-10.9},{"d":"2019-11-13","s":"-11.6m","v":-11.0},{"d":"2019-11-18","s":"-11.6m","v":-11.0},{"d":"2019-11-23","s":"-11.6m","v":-11.6},{"d":"2019-11-28","s":"-11.6m","v":-12.4}
],
"p2":[
{"d":"2019-06-01T03:00:00Z","p":0.4},{"d":"2019-06-09T17:00:00Z","p":4.5},{"d":"2019-06-13T19:00:00Z","p":4.1},{"d":"2019-06-16T05:00:00Z","p":1.0},{"d":"2019-06-17T14:00:00Z","p":1.1},{"d":"2019-06-20T05:00:00Z","p":2.4},{"d":"2019-06-24T00:00:00Z","p":10.5},{"d":"2019-06-25T05:00:00Z","p":9.0},{"d":"2019-06-28T02:00:00Z","p":21.1},{"d":"2019-06-30T05:00:00Z","p":2.0},{"d":"2019-07-05T17:00:00Z","p":0.9},{"d":"2019-07-09T12:00:00Z","p":0.9},{"d":"2019-07-13T14:00:00Z","p":1.9},{"d":"2019-07-15T07:00:00Z","p":0.3},{"d":"2019-07-24T00:00:00Z","p":0.4},{"d":"2019-08-01T05:00:00Z","p":1.5},{"d":"2019-08-03T14:00:00Z","p":4.5},{"d":"2019-08-09T10:00:00Z","p":10.0},{"d":"2019-08-10T00:00:00Z","p":6.0},{"d":"2019-08-16T10:00:00Z","p":5.0},{"d":"2019-08-17T07:00:00Z","p":23.9},{"d":"2019-08-18T02:00:00Z","p":8.0},{"d":"2019-08-18T17:00:00Z","p":13.6},{"d":"2019-08-20T05:00:00Z","p":12.6},{"d":"2019-08-21T00:00:00Z","p":4.0},{"d":"2019-08-22T00:00:00Z","p":6.0},{"d":"2019-08-22T19:00:00Z","p":33.3},{"d":"2019-08-24T00:00:00Z","p":3.0},{"d":"2019-08-25T02:00:00Z","p":8.0},{"d":"2019-08-27T05:00:00Z","p":14.5},{"d":"2019-08-28T00:00:00Z","p":3.0},{"d":"2019-08-28T22:00:00Z","p":2.5},{"d":"2019-08-30T02:00:00Z","p":16.6},{"d":"2019-08-31T12:00:00Z","p":2.0},{"d":"2019-09-05T05:00:00Z","p":1.0},{"d":"2019-09-07T12:00:00Z","p":4.5},{"d":"2019-09-08T17:00:00Z","p":20.5},{"d":"2019-09-09T07:00:00Z","p":15.8},{"d":"2019-09-10T00:00:00Z","p":3.0},{"d":"2019-09-12T19:00:00Z","p":8.0},{"d":"2019-09-13T17:00:00Z","p":10.0},{"d":"2019-09-15T00:00:00Z","p":5.0},{"d":"2019-09-16T00:00:00Z","p":12.0},{"d":"2019-09-18T00:00:00Z","p":3.0},{"d":"2019-09-19T00:00:00Z","p":11.0},{"d":"2019-09-19T19:00:00Z","p":4.0},{"d":"2019-09-20T17:00:00Z","p":10.3},{"d":"2019-09-21T19:00:00Z","p":4.0},{"d":"2019-09-24T00:00:00Z","p":2.0},{"d":"2019-09-24T17:00:00Z","p":1.5},{"d":"2019-09-28T05:00:00Z","p":2.0},{"d":"2019-09-29T00:00:00Z","p":8.0},{"d":"2019-10-06T10:00:00Z","p":4.5},{"d":"2019-10-08T17:00:00Z","p":2.4},{"d":"2019-10-17T12:00:00Z","p":0.5},{"d":"2019-10-29T00:00:00Z","p":4.7},{"d":"2019-11-02T00:00:00Z","p":0.4},{"d":"2019-11-11T19:00:00Z","p":4.7},{"d":"2019-11-15T07:00:00Z","p":0.5},{"d":"2019-11-19T17:00:00Z","p":7.5},{"d":"2019-11-22T07:00:00Z","p":2.4},{"d":"2019-11-23T05:00:00Z","p":1.2},{"d":"2019-11-24T17:00:00Z","p":1.5},{"d":"2019-11-27T20:00:00Z","p":1.5}
]
},
"vconcat":[
{
"width":617,"height":332,
"title":{"text":"160-7S(未凍結西⑤)","anchor":"start","frame":"group","fontSize":13,"fontWeight":"normal","color":"#595959","offset":-2,"dx":4},
"layer":[
{"layer":[
{"data":{"name":"t1"},"mark":{"type":"line","strokeWidth":1.5},
"encoding":{
"x":{"field":"d","type":"temporal","title":null,"scale":{"type":"utc","domain":[1543622400000,1559174400000]},"axis":{"values":[1543622400000,1544486400000,1545350400000,1546214400000,1547078400000,1547942400000,1548806400000,1549670400000,1550534400000,1551398400000,1552262400000,1553126400000,1553990400000,1554854400000,1555718400000,1556582400000,1557446400000,1558310400000,1559174400000],"tickCount":100,"format":"%-m/%-d","labelPadding":6,"grid":true,"domain":false,"ticks":false,"labelFlush":false,"labelOverlap":false,"minExtent":16,"maxExtent":16,"title":null}},
"y":{"field":"v","type":"quantitative","title":null,"scale":{"domain":[-20,20],"nice":false},"axis":{"values":[-20,-18,-16,-14,-12,-10,-8,-6,-4,-2,0,2,4,6,8,10,12,14,16,18,20],"tickCount":100,"format":"d","grid":true,"domain":false,"ticks":false,"labelPadding":7,"labelOverlap":false,"minExtent":30,"maxExtent":30,"title":null}},
"color":{"field":"s","type":"nominal","scale":{"domain":["-0.7m","-1.7m","-2.7m","-3.7m","-4.7m","-5.7m","-6.7m","-7.7m","-8.7m","降水量(mm/h)"],"range":["#6A93C8","#D0706C","#A8C46E","#9580BA","#5DBDD3","#F7A15E","#2F5C94","#9A2E2C","#709A3E","#6C8EBF"]},
"legend":{"title":null,"orient":"none","legendX":640,"legendY":0,"symbolType":"stroke","symbolSize":225,"symbolStrokeWidth":2,"labelFontSize":9,"labelColor":"#595959","rowPadding":7,"labelOffset":2,"labelLimit":200,"padding":0,"labelExpr":"datum.label == '降水量(mm/h)' ? datum.label : '160-7S O.P. ' + datum.label"}}
}},
{"data":{"values":[{}]},"mark":{"type":"rule","color":"#ff0000","strokeWidth":2},"encoding":{"y":{"datum":0,"type":"quantitative"}}},
{"data":{"values":[{}]},"mark":{"type":"rule","color":"#000000","strokeWidth":2},"encoding":{"x":{"datum":{"year":2018,"month":12,"date":3,"utc":true},"type":"temporal"},"y":{"datum":18,"type":"quantitative"},"y2":{"datum":-20}}},
{"data":{"name":"ann"},"mark":{"type":"rule","color":"#000000","strokeWidth":1.2},"encoding":{"x":{"field":"t0","type":"temporal","title":null},"x2":{"field":"t1"},"y":{"field":"v0","type":"quantitative","title":null},"y2":{"field":"v1"}}},
{"data":{"name":"annText"},"mark":{"type":"text","fontSize":19,"fontWeight":"bold","color":"#000000","align":"center","baseline":"middle"},"encoding":{"x":{"field":"t","type":"temporal","title":null},"y":{"field":"v","type":"quantitative","title":null},"text":{"field":"label"}}},
{"data":{"values":[{}]},"mark":{"type":"text","text":"西⑤凍結開始  12/3","fontSize":11,"fontWeight":"bold","color":"#2E75B6","align":"left","baseline":"middle","dx":1},"encoding":{"x":{"datum":{"year":2018,"month":12,"date":3,"utc":true},"type":"temporal"},"y":{"datum":18.8,"type":"quantitative"}}}
]},
{"layer":[
{"data":{"name":"p1"},"mark":{"type":"rule","color":"#1F3F70","strokeWidth":1.2},"encoding":{"x":{"field":"d","type":"temporal","title":null},"y":{"field":"p","type":"quantitative","title":null,"scale":{"domain":[0,40],"nice":false},"axis":{"orient":"right","values":[0,5,10,15,20,25,30,35,40],"tickCount":100,"format":"d","grid":false,"domain":true,"domainColor":"#bfbfbf","ticks":true,"tickSize":4,"tickColor":"#bfbfbf","labelPadding":3,"labelOverlap":false,"title":null}},"y2":{"datum":0}}},
{"data":{"values":[{}]},"mark":{"type":"rule","strokeWidth":1.5},"encoding":{"x":{"datum":{"year":2018,"month":12,"date":1,"utc":true},"type":"temporal"},"x2":{"datum":{"year":2019,"month":3,"date":31,"utc":true}},"y":{"datum":0,"type":"quantitative"},"color":{"datum":"降水量(mm/h)"}}}
]}
],
"resolve":{"scale":{"y":"independent"}}
},
{
"width":617,"height":330,
"title":{"text":"400-5S","anchor":"start","frame":"group","fontSize":13,"fontWeight":"normal","color":"#595959","offset":-2,"dx":4},
"layer":[
{"layer":[
{"data":{"name":"t2"},"mark":{"type":"line","strokeWidth":1.5},
"encoding":{
"x":{"field":"d","type":"temporal","title":null,"scale":{"type":"utc","domain":[1559347200000,1574899200000]},"axis":{"values":[1559347200000,1560211200000,1561075200000,1561939200000,1562803200000,1563667200000,1564531200000,1565395200000,1566259200000,1567123200000,1567987200000,1568851200000,1569715200000,1570579200000,1571443200000,1572307200000,1573171200000,1574035200000,1574899200000],"tickCount":100,"format":"%-m/%-d","labelPadding":4,"grid":true,"domain":false,"ticks":false,"labelFlush":false,"labelOverlap":false,"minExtent":14,"maxExtent":14,"title":null}},
"y":{"field":"v","type":"quantitative","title":null,"scale":{"domain":[-20,20],"nice":false},"axis":{"values":[-20,-18,-16,-14,-12,-10,-8,-6,-4,-2,0,2,4,6,8,10,12,14,16,18,20],"tickCount":100,"format":"d","grid":true,"domain":false,"ticks":false,"labelPadding":7,"labelOverlap":false,"minExtent":30,"maxExtent":30,"title":null}},
"color":{"field":"s","type":"nominal","scale":{"domain":["+0.4m","-0.6m","-1.6m","-2.6m","-3.6m","-4.6m","-5.6m","-6.6m","-7.6m","-8.6m","-9.6m","-10.6m","-11.6m","降水量(mm/h)"],"range":["#D46A66","#A6C46A","#8E72B0","#85CBDC","#F8AE78","#2B4F7E","#963634","#7A9A3C","#5E4580","#2F8599","#EE7A1C","#9DB8DA","#E4A3A1","#A9BCD6"]},
"legend":{"title":null,"orient":"none","legendX":640,"legendY":0,"symbolType":"stroke","symbolSize":215,"symbolStrokeWidth":2,"labelFontSize":8.5,"labelColor":"#595959","rowPadding":1.5,"labelOffset":1,"labelLimit":200,"padding":0,"labelExpr":"datum.label == '降水量(mm/h)' ? datum.label : (length(datum.label) > 5 ? '400-5S O.P.' : '400-5S O.P. ') + datum.label"}}
}},
{"data":{"values":[{}]},"mark":{"type":"rule","color":"#ff0000","strokeWidth":2},"encoding":{"y":{"datum":0,"type":"quantitative"}}},
{"data":{"values":[{}]},"mark":{"type":"rule","color":"#000000","strokeWidth":2},"encoding":{"x":{"datum":{"year":2019,"month":6,"date":4,"utc":true},"type":"temporal"},"y":{"datum":18,"type":"quantitative"},"y2":{"datum":-20}}},
{"data":{"values":[{}]},"mark":{"type":"text","text":"山側凍結開始  6/4 ～","fontSize":11,"fontWeight":"bold","color":"#2E75B6","align":"left","baseline":"middle","dx":-5},"encoding":{"x":{"datum":{"year":2019,"month":6,"date":4,"utc":true},"type":"temporal"},"y":{"datum":19.0,"type":"quantitative"}}}
]},
{"layer":[
{"data":{"name":"p2"},"mark":{"type":"rule","color":"#1F3F70","strokeWidth":1.2},"encoding":{"x":{"field":"d","type":"temporal","title":null},"y":{"field":"p","type":"quantitative","title":null,"scale":{"domain":[0,40],"nice":false},"axis":{"orient":"right","values":[0,5,10,15,20,25,30,35,40],"tickCount":100,"format":"d","grid":false,"domain":true,"domainColor":"#bfbfbf","ticks":true,"tickSize":4,"tickColor":"#bfbfbf","labelPadding":3,"labelOverlap":false,"title":null}},"y2":{"datum":0}}},
{"data":{"values":[{}]},"mark":{"type":"rule","strokeWidth":1.5},"encoding":{"x":{"datum":{"year":2019,"month":6,"date":1,"utc":true},"type":"temporal"},"x2":{"datum":{"year":2019,"month":11,"date":28,"utc":true}},"y":{"datum":0,"type":"quantitative"},"color":{"datum":"降水量(mm/h)"}}}
]}
],
"resolve":{"scale":{"y":"independent"}}
}
],
"resolve":{"scale":{"color":"independent"},"legend":{"color":"independent"}}
}
